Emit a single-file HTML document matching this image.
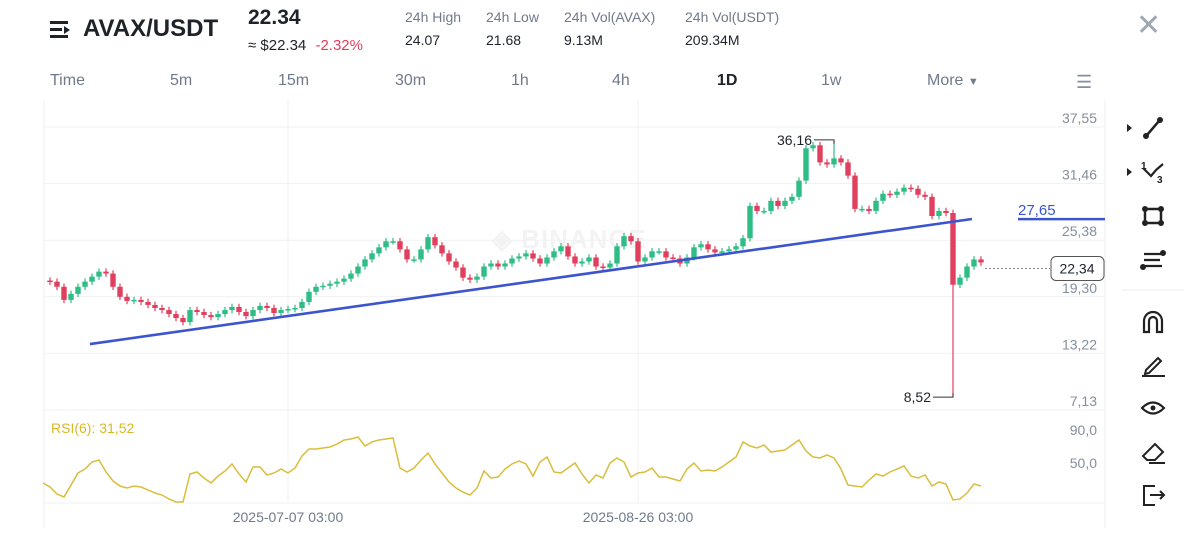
<!DOCTYPE html>
<html><head><meta charset="utf-8">
<style>
body{margin:0;background:#fff;font-family:"Liberation Sans",sans-serif;}
#root{position:relative;width:1200px;height:540px;overflow:hidden;background:#fff;}
.t{position:absolute;white-space:nowrap;}
.lbl{color:#707a8a;font-size:14px;}
.val{color:#1e2329;font-size:14px;}
.tf{position:absolute;top:72px;font-size:16px;color:#707a8a;}
</style></head><body>
<div id="root">
  <div class="t" style="left:50px;top:18px;width:22px;height:22px;">
    <div style="position:absolute;left:0;top:3px;width:18px;height:3px;background:#1e2329"></div>
    <div style="position:absolute;left:0;top:10px;width:12px;height:3px;background:#1e2329"></div>
    <div style="position:absolute;left:0;top:17px;width:18px;height:3px;background:#1e2329"></div>
    <div style="position:absolute;left:14px;top:8px;width:0;height:0;border-left:6px solid #1e2329;border-top:4px solid transparent;border-bottom:4px solid transparent"></div>
  </div>
  <div class="t" style="left:83px;top:15px;font-size:24px;font-weight:bold;color:#1e2329">AVAX/USDT</div>
  <div class="t" style="left:248px;top:6px;font-size:21px;font-weight:bold;color:#1e2329">22.34</div>
  <div class="t" style="left:248px;top:37px;font-size:15px;color:#1e2329">≈ $22.34 <span style="color:#e0405e;margin-left:5px">-2.32%</span></div>
  <div class="t lbl" style="left:405px;top:9px">24h High</div>
  <div class="t val" style="left:405px;top:32px">24.07</div>
  <div class="t lbl" style="left:486px;top:9px">24h Low</div>
  <div class="t val" style="left:486px;top:32px">21.68</div>
  <div class="t lbl" style="left:564px;top:9px">24h Vol(AVAX)</div>
  <div class="t val" style="left:564px;top:32px">9.13M</div>
  <div class="t lbl" style="left:685px;top:9px">24h Vol(USDT)</div>
  <div class="t val" style="left:685px;top:32px">209.34M</div>
  <div class="t" style="left:1136px;top:8px;font-size:30px;color:#a0a7b1">✕</div>

  <div class="tf" style="left:50px">Time</div>
  <div class="tf" style="left:170px">5m</div>
  <div class="tf" style="left:278px">15m</div>
  <div class="tf" style="left:395px">30m</div>
  <div class="tf" style="left:511px">1h</div>
  <div class="tf" style="left:612px">4h</div>
  <div class="tf" style="left:717px;color:#1e2329;font-weight:bold">1D</div>
  <div class="tf" style="left:821px">1w</div>
  <div class="tf" style="left:927px">More <span style="font-size:11px">▼</span></div>
  <div class="t" style="left:1076px;top:72px;font-size:18px;color:#848e9c">☰</div>

  <div class="t" style="left:492px;top:224px;font-size:26px;font-weight:bold;color:#f3f3f3;letter-spacing:1px">◈ BINANCE</div>
  <svg id="chart" width="1200" height="540" style="position:absolute;left:0;top:0"></svg>

  <div class="t" style="left:51px;top:420px;font-size:14px;color:#d8b828">RSI(6): 31,52</div>
</div>
<script>
const closes=[20.28,19.73,18.32,18.97,19.73,20.28,20.82,21.36,21.15,19.73,18.65,18.21,18.32,18.10,17.78,17.45,17.23,16.80,16.37,15.93,17.23,17.02,16.69,16.47,16.80,17.23,17.56,17.02,16.58,17.23,17.67,17.45,16.91,17.23,17.34,17.45,18.10,19.19,19.73,19.84,20.06,20.28,20.60,21.15,21.91,22.67,23.32,23.97,24.62,24.62,23.75,22.67,22.67,23.75,25.06,24.19,23.32,22.45,21.80,20.71,20.49,20.82,21.91,22.23,21.91,22.23,22.77,22.99,23.32,22.77,22.23,22.88,23.54,24.08,22.99,22.23,22.45,22.88,21.91,21.80,22.23,24.08,25.17,24.62,22.45,22.88,23.54,23.54,22.88,22.77,22.23,22.88,23.97,24.30,23.75,23.43,23.54,23.75,24.08,24.95,28.42,27.88,27.88,28.97,28.42,28.97,29.40,31.14,34.62,34.94,33.10,32.88,33.53,33.10,31.68,28.10,28.10,27.88,28.97,29.73,29.62,29.95,30.38,30.27,29.62,29.40,27.34,27.88,27.66,19.95,20.71,21.91,22.67,22.34];
const firstOpen=[20.40];
const extremeHighIndex=[112];
const extremeHighValue=[36.16];
const extremeLowIndex=[129];
const extremeLowValue=[8.52];
const priceTicks=[37.55,31.46,25.38,19.30,13.22,7.13];
const priceTickLabels=["37,55","31,46","25,38","19,30","13,22","7,13"];
const trendStart=[5.7,14.22];
const trendEnd=[131.7,27.66];
const hLineValue=[27.65];
const lastPrice=[22.34];
const rsi=[25.8,20.9,12.4,8.8,23.3,37.9,42.7,51.2,53.6,39.1,28.2,22.1,19.7,22.1,20.9,17.3,13.6,11.2,6.4,2.7,2.7,36.7,39.1,31.8,25.8,34.2,40.3,48.8,36.7,27.0,45.2,45.2,35.5,37.9,42.7,37.9,43.9,58.5,67.0,67.0,68.2,69.4,73.0,77.9,79.1,81.5,70.6,75.5,77.9,79.1,80.3,43.9,39.1,43.9,53.6,62.1,48.8,37.9,27.0,19.7,14.8,11.2,19.7,40.3,31.8,33.0,42.7,48.8,52.4,48.8,34.2,51.2,57.3,39.1,37.9,43.9,50.0,36.7,25.8,35.5,31.8,50.0,56.1,51.2,33.0,37.9,39.1,43.9,33.0,33.0,30.6,28.2,42.7,50.0,40.3,41.5,40.3,45.2,51.2,57.3,75.5,70.6,68.2,71.8,63.3,64.5,65.8,71.8,77.9,64.5,57.3,56.1,59.7,56.1,42.7,23.3,22.1,20.9,29.4,36.7,34.2,39.1,42.7,46.4,34.2,31.8,35.5,22.1,27.0,24.5,5.2,6.4,13.6,24.5,22.1];
const rsiTicks=[90,50];
const rsiTickLabels=["90,0","50,0"];
const dateLabels=["2025-07-07 03:00","2025-08-26 03:00"];
const dateIndex=[34,84];

const NS="http://www.w3.org/2000/svg";
const svg=document.getElementById('chart');
const py=p=>127+(37.55-p)*(283/30.42);
const candleShift=-6;
const cy=p=>py(p)+candleShift;
const cx=i=>50+i*7;
const rx=i=>43+i*7;
const ry=v=>430+(90-v)*0.825;
function mk(tag,attrs,parent){const e=document.createElementNS(NS,tag);for(const k in attrs)e.setAttribute(k,attrs[k]);(parent||svg).appendChild(e);return e;}

let e=mk('line',{x1:44,y1:100,x2:44,y2:528,stroke:'#eef0f2'});


e=mk('line',{x1:1105,y1:100,x2:1105,y2:528,stroke:'#eef0f2'});


priceTicks.forEach((p,i)=>{
  const g=mk('line',{x1:44,x2:1105,y1:py(p),y2:py(p),stroke:'#f0f1f3'});
  
  
  const t=mk('text',{x:1097,y:py(p)-4,'text-anchor':'end','font-size':14,fill:'#848e9c','font-family':'Liberation Sans'});
  t.textContent=priceTickLabels[i];
  
  
});
rsiTicks.forEach((v,i)=>{
  const t=mk('text',{x:1097,y:ry(v)+5,'text-anchor':'end','font-size':14,fill:'#848e9c','font-family':'Liberation Sans'});
  t.textContent=rsiTickLabels[i];
  
  
});
e=mk('line',{x1:44,x2:1105,y1:503,y2:503,stroke:'#f0f1f3'});


dateIndex.forEach((di,i)=>{
  const g=mk('line',{x1:cx(di),x2:cx(di),y1:100,y2:503,stroke:'#f0f1f3'});
  
  
  const t=mk('text',{x:cx(di),y:522,'text-anchor':'middle','font-size':14,fill:'#707a8a','font-family':'Liberation Sans'});
  t.textContent=dateLabels[i];
  
  
});

closes.forEach((c,i)=>{
  const o=i===0?firstOpen[0]:closes[i-1];
  let hi=Math.max(o,c)+0.35, lo=Math.min(o,c)-0.35;
  const hk=extremeHighIndex.indexOf(i); if(hk>=0) hi=extremeHighValue[hk];
  const lk=extremeLowIndex.indexOf(i); if(lk>=0) lo=extremeLowValue[lk];
  const col=c>=o?'#2ebd85':'#e0405e';
  const g=mk('g',{});
  
  
  const yHi=hk>=0?py(hi):cy(hi), yLo=lk>=0?py(lo):cy(lo);
  mk('line',{x1:cx(i),x2:cx(i),y1:yHi,y2:yLo,stroke:col,'stroke-width':1.2},g);
  const top=cy(Math.max(o,c)),h=Math.max(1.5,cy(Math.min(o,c))-top);
  mk('rect',{x:cx(i)-2.7,y:top,width:5.4,height:h,fill:col},g);
});
extremeHighIndex.forEach((ix,k)=>{
  const y=py(extremeHighValue[k]);
  const l=mk('polyline',{points:`${cx(ix)},${y+4} ${cx(ix)},${y} ${cx(ix)-20},${y}`,fill:'none',stroke:'#333','stroke-width':1});
  
  
  const t=mk('text',{x:cx(ix)-22,y:y+5,'text-anchor':'end','font-size':14,fill:'#1e2329','font-family':'Liberation Sans'});
  t.textContent=String(extremeHighValue[k]).replace('.',',');
  
  
});
extremeLowIndex.forEach((ix,k)=>{
  const y=py(extremeLowValue[k]);
  const l=mk('polyline',{points:`${cx(ix)},${y-4} ${cx(ix)},${y} ${cx(ix)-20},${y}`,fill:'none',stroke:'#333','stroke-width':1});
  
  
  const t=mk('text',{x:cx(ix)-22,y:y+5,'text-anchor':'end','font-size':14,fill:'#1e2329','font-family':'Liberation Sans'});
  t.textContent=String(extremeLowValue[k]).replace('.',',');
  
  
});
e=mk('line',{x1:cx(trendStart[0]),y1:py(trendStart[1]),x2:cx(trendEnd[0]),y2:py(trendEnd[1]),stroke:'#3c55cf','stroke-width':2.6});


e=mk('line',{x1:1018,x2:1105,y1:py(hLineValue[0]),y2:py(hLineValue[0]),stroke:'#3c55cf','stroke-width':2.5});


e=mk('text',{x:1018,y:py(hLineValue[0])-4,'font-size':15,fill:'#3c55cf','font-family':'Liberation Sans'});
e.textContent=String(hLineValue[0]).replace('.',',');


e=mk('line',{x1:cx(closes.length-1)+4,x2:1050,y1:py(lastPrice[0]),y2:py(lastPrice[0]),stroke:'#888','stroke-dasharray':'2,2'});


e=mk('rect',{x:1051,y:py(lastPrice[0])-12,width:53,height:24,rx:5,fill:'#fff',stroke:'#555'});


e=mk('text',{x:1077,y:py(lastPrice[0])+5,'text-anchor':'middle','font-size':14,fill:'#1e2329','font-family':'Liberation Sans'});
e.textContent=String(lastPrice[0]).replace('.',',');


e=mk('polyline',{points:rsi.map((v,i)=>`${rx(i)},${ry(v)}`).join(' '),fill:'none',stroke:'#d8be3c','stroke-width':1.5});



e=mk('line',{x1:1122,x2:1184,y1:290,y2:290,stroke:'#eaecef'});


const tb=[
 ['trendline-tool',128,'<polygon points="-26,-4 -26,4 -21,0" fill="#222"/><line x1="-6" y1="7" x2="6" y2="-7" stroke="#222" stroke-width="2.5"/><circle cx="-7" cy="8" r="3" fill="#222"/><circle cx="7" cy="-8" r="3" fill="#222"/>'],
 ['fib-tool',172,'<polygon points="-26,-4 -26,4 -21,0" fill="#222"/><polyline points="-10,-4 -2,4 3,-2 10,-8" fill="none" stroke="#222" stroke-width="2.2"/><text x="-12" y="-3" font-size="10" font-weight="bold" fill="#222">1</text><text x="4" y="11" font-size="10" font-weight="bold" fill="#222">3</text>'],
 ['rectangle-tool',216,'<rect x="-8" y="-7" width="16" height="14" fill="none" stroke="#222" stroke-width="2.5"/><circle cx="-8" cy="-7" r="3" fill="#222"/><circle cx="8" cy="-7" r="3" fill="#222"/><circle cx="-8" cy="7" r="3" fill="#222"/><circle cx="8" cy="7" r="3" fill="#222"/>'],
 ['parallel-tool',260,'<line x1="-9" y1="-6" x2="9" y2="-6" stroke="#222" stroke-width="2.3"/><line x1="-9" y1="0" x2="7" y2="0" stroke="#222" stroke-width="2.3"/><line x1="-9" y1="6" x2="9" y2="6" stroke="#222" stroke-width="2.3"/><circle cx="10" cy="-7" r="3" fill="#222"/><circle cx="-10" cy="7" r="3" fill="#222"/>'],
 ['magnet-tool',322,'<path d="M-9,10 L-9,-1 A9,9 0 0 1 9,-1 L9,10 L4,10 L4,-1 A4,4 0 0 0 -4,-1 L-4,10 Z" fill="none" stroke="#222" stroke-width="2.2"/>'],
 ['pencil-tool',364,'<path d="M-7,6 L5,-6 L8,-3 L-4,9 L-8,10 Z" fill="none" stroke="#222" stroke-width="2"/><line x1="-11" y1="12" x2="12" y2="12" stroke="#222" stroke-width="2"/>'],
 ['visibility-tool',408,'<path d="M-11,0 Q0,-11 11,0 Q0,11 -11,0 Z" fill="none" stroke="#222" stroke-width="2.2"/><circle cx="0" cy="0" r="2.5" fill="#222"/>'],
 ['eraser-tool',452,'<path d="M-10,4 L2,-8 L10,0 L2,8 L-6,8 Z" fill="none" stroke="#222" stroke-width="2"/><line x1="-4" y1="11" x2="12" y2="11" stroke="#222" stroke-width="2"/>'],
 ['exit-tool',495,'<path d="M2,-9 L-9,-9 L-9,10 L2,10" fill="none" stroke="#222" stroke-width="2"/><line x1="-3" y1="0" x2="11" y2="0" stroke="#222" stroke-width="2"/><polyline points="7,-4 11,0 7,4" fill="none" stroke="#222" stroke-width="2"/>']
];
tb.forEach(t=>{
  const g=mk('g',{transform:`translate(1153,${t[1]})`});
  g.innerHTML=t[2];
  
  
});
</script>
</body></html>
